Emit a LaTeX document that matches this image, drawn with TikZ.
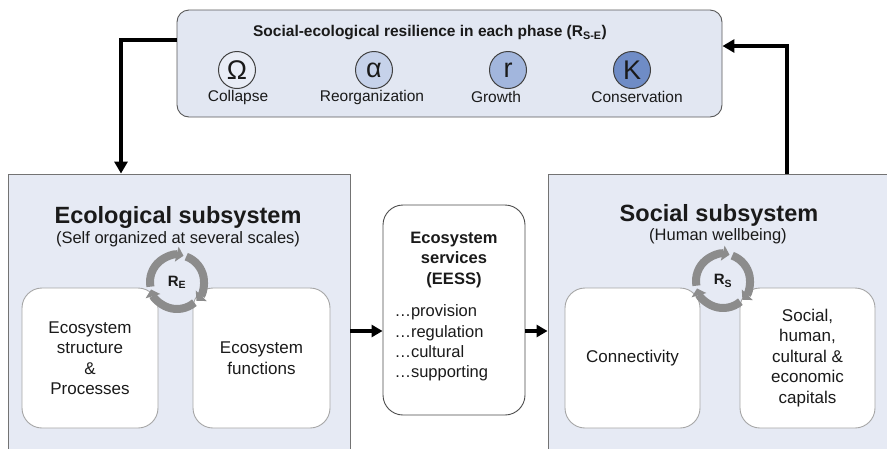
\documentclass[tikz,border=0pt]{standalone}
\usepackage{fontspec}
\setmainfont{Liberation Sans}
\usetikzlibrary{arrows.meta}

\definecolor{panelfill}{HTML}{E6EAF4}
\definecolor{topfill}{HTML}{E2E7F2}
\definecolor{omegafill}{HTML}{E9EDF6}
\definecolor{alphafill}{HTML}{C6D2EA}
\definecolor{rfill}{HTML}{A2B6DD}
\definecolor{kfill}{HTML}{6F8CC6}
\definecolor{ringgray}{HTML}{8C8C8C}
\definecolor{ink}{HTML}{1A1A1A}

\newcommand{\rescycle}[3]{%
  \node[cyclab] (#1) at (#2) {#3};
  \draw[cycarc] (#1.center) ++(-190:27) arc[start angle=-190,end angle=-76,radius=27];
  \draw[cycarc] (#1.center) ++(-70:27) arc[start angle=-70,end angle=44,radius=27];
  \draw[cycarc] (#1.center) ++(50:27) arc[start angle=50,end angle=164,radius=27];
}

\begin{document}
\begin{tikzpicture}[x=1pt,y=-1pt,text=ink,
    panel/.style={draw=black!55,line width=0.9pt,fill=panelfill},
    card/.style={draw=black!35,line width=0.9pt,fill=white,rounded corners=20pt,
      align=center,font=\fontsize{17}{20.5}\selectfont},
    phase/.style={circle,draw=black!75,line width=1pt,minimum size=37pt,inner sep=0pt,
      font=\fontsize{27}{27}\selectfont},
    phaselab/.style={font=\fontsize{15.5}{18}\selectfont},
    systitle/.style={font=\bfseries\fontsize{23.5}{26}\selectfont},
    syssub/.style={font=\fontsize{16.5}{19}\selectfont},
    cyclab/.style={font=\bfseries\fontsize{15}{15}\selectfont,inner sep=0pt},
    cycarc/.style={draw=ringgray,line width=8pt,-{Triangle[length=7pt,width=15pt]}},
    flow/.style={draw=black,line width=3.2pt,-{Triangle[length=11pt,width=12pt]}}]
  \useasboundingbox (0,0) rectangle (887,448);
  \clip (0,0) rectangle (887,448);

  \node[panel,minimum width=342pt,minimum height=314pt] (EcoSys) at (179,331) {};
  \node[panel,minimum width=352pt,minimum height=314pt] (SocSys) at (724,331) {};
  \node[panel,fill=topfill,draw=black!65,rounded corners=12pt,minimum width=545pt,minimum height=107pt] (Phases) at (449.5,63.5) {};

  \node[font=\bfseries\fontsize{15.5}{18}\selectfont] (PhasesTitle) at (430,33) {Social-ecological resilience in each phase (R\textsubscript{S-E})};
  \node[phase,fill=omegafill] (Omega) at (237,70) {Ω};
  \node[phase,fill=alphafill] (Alpha) at (374,70) {α};
  \node[phase,fill=rfill] (Growth) at (508,70) {r};
  \node[phase,fill=kfill] (Conserv) at (632,70) {K};
  \node[phaselab] (OmegaLab) at (238,97) {Collapse};
  \node[phaselab] (AlphaLab) at (372,97) {Reorganization};
  \node[phaselab] (GrowthLab) at (496,97) {Growth};
  \node[phaselab] (ConservLab) at (637,97) {Conservation};

  \node[systitle] (EcoTitle) at (178,217) {Ecological subsystem};
  \node[syssub] (EcoSub) at (178,239) {(Self organized at several scales)};
  \node[card,minimum width=136pt,minimum height=140pt] (EcoStruct) at (90,358) {Ecosystem\\structure\\\&\\Processes};
  \node[card,minimum width=137pt,minimum height=140pt] (EcoFunc) at (261.5,358) {Ecosystem\\functions};
  \rescycle{ResEco}{177,282}{R\textsubscript{E}}

  \node[systitle] (SocTitle) at (719,215) {Social subsystem};
  \node[syssub] (SocSub) at (718,236) {(Human wellbeing)};
  \node[card,minimum width=135pt,minimum height=140pt] (Connect) at (632.5,358) {Connectivity};
  \node[card,minimum width=135pt,minimum height=140pt] (Capitals) at (807.5,358) {Social,\\human,\\cultural \&\\economic\\capitals};
  \rescycle{ResSoc}{723,281}{R\textsubscript{S}}

  \node[card,draw=black!70,minimum width=142pt,minimum height=210pt] (EESS) at (454,310) {};
  \node[align=center,font=\bfseries\fontsize{16.5}{20.3}\selectfont] (EESSHead) at (454,260) {Ecosystem\\services\\(EESS)};
  \node[anchor=west,align=left,font=\fontsize{16.5}{20.4}\selectfont] (EESSList) at (391,343) {…provision\\…regulation\\…cultural\\…supporting};

  \draw[flow] (EcoSys.east) -- (EcoSys.east -| EESS.west);
  \draw[flow] (EESS.east |- SocSys.west) -- (SocSys.west);
  \draw[flow,-{Triangle[length=12pt,width=13pt]}] ([yshift=23.5pt]Phases.west) -| ([xshift=-58pt]EcoSys.north);
  \draw[flow,-{Triangle[length=12pt,width=13pt]}] ([xshift=63pt]SocSys.north) |- ([yshift=17.5pt]Phases.east);
\end{tikzpicture}
\end{document}
